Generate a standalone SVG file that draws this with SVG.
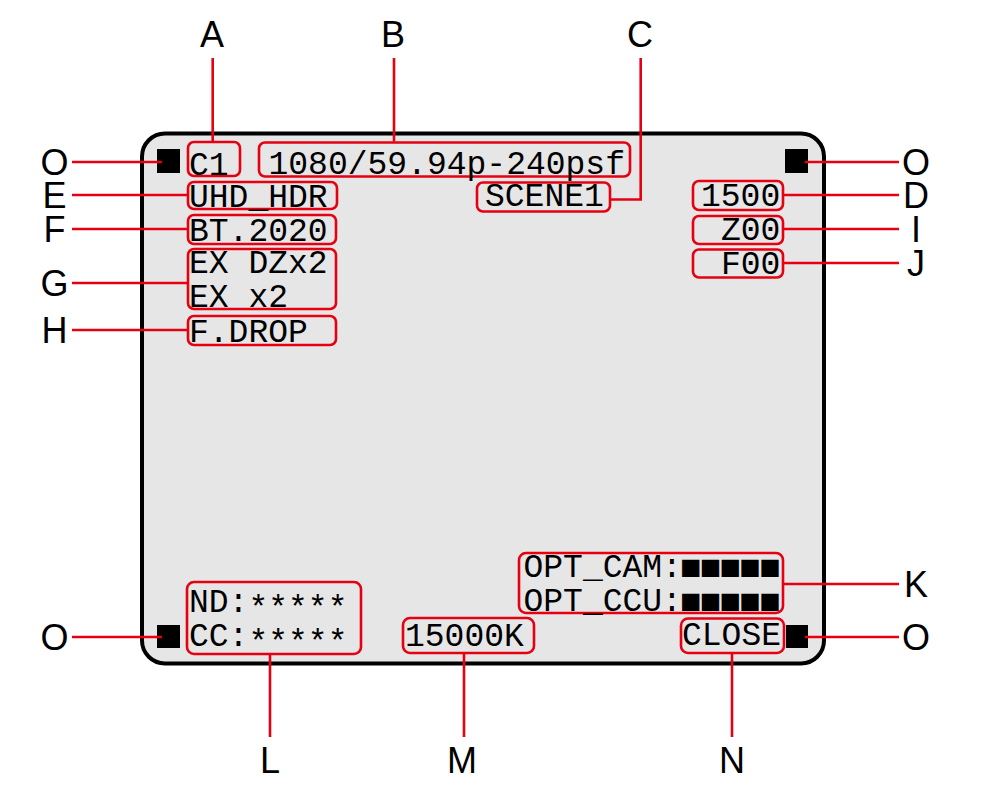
<svg xmlns="http://www.w3.org/2000/svg" width="1002" height="793" viewBox="0 0 1002 793">
<style>
.lbl{font-family:"Liberation Sans",Arial,sans-serif;font-size:36px;fill:#000;text-anchor:middle}
.lcd{font-family:"Liberation Mono","DejaVu Sans Mono",monospace;font-size:33px;fill:#000;letter-spacing:0px}
.sq{font-family:"DejaVu Sans Mono",monospace;font-size:29px;letter-spacing:2.35px}
.box{fill:none;stroke:#e50012;stroke-width:2.6;}
.ln{fill:none;stroke:#e50012;stroke-width:2.6}
</style>
<rect width="1002" height="793" fill="#fff"/>
<g id="panel">
<rect x="142" y="133.5" width="682" height="530" rx="23" fill="#e6e6e6" stroke="#000" stroke-width="4"/>
<rect x="157" y="149" width="23" height="24" fill="#000"/>
<rect x="785" y="149" width="23" height="24" fill="#000"/>
<rect x="157" y="625" width="23" height="23" fill="#000"/>
<rect x="786" y="625" width="22" height="23" fill="#000"/>
</g>
<g id="connectors">
<path class="ln" d="M212.7 58V141"/>
<path class="ln" d="M394 58V141.5"/>
<path class="ln" d="M640.7 58V199.5H611"/>
<path class="ln" d="M72 162H162"/>
<path class="ln" d="M72 195H187"/>
<path class="ln" d="M72 229H187"/>
<path class="ln" d="M72 283H187"/>
<path class="ln" d="M72 330H187"/>
<path class="ln" d="M72 637H162"/>
<path class="ln" d="M805 162H899"/>
<path class="ln" d="M784 195H899"/>
<path class="ln" d="M784 229H899"/>
<path class="ln" d="M784 263H899"/>
<path class="ln" d="M784 584H899"/>
<path class="ln" d="M805 637H899"/>
<path class="ln" d="M270 655V737"/>
<path class="ln" d="M464 654V737"/>
<path class="ln" d="M732 654V737"/>
</g>
<g id="nodeA"><rect class="box" x="188" y="142" width="52" height="34" rx="6"/><text class="lcd" x="189" y="174.5">C1</text><text class="lbl" x="212" y="47">A</text></g>
<g id="nodeB"><rect class="box" x="259" y="142.5" width="371" height="34" rx="6"/><text class="lcd" x="268.5" y="174">1080/59.94p-240psf</text><text class="lbl" x="393" y="47">B</text></g>
<g id="nodeC"><rect class="box" x="477" y="182.5" width="133" height="29" rx="6"/><text class="lcd" x="485" y="206">SCENE1</text><text class="lbl" x="640" y="47">C</text></g>
<g id="nodeE"><rect class="box" x="188" y="182" width="149" height="27" rx="6"/><text class="lcd" x="189" y="207">UHD_HDR</text><text class="lbl" x="54.5" y="208">E</text></g>
<g id="nodeF"><rect class="box" x="188" y="215" width="148" height="29" rx="6"/><text class="lcd" x="189" y="240.5">BT.2020</text><text class="lbl" x="54.5" y="242">F</text></g>
<g id="nodeG"><rect class="box" x="188" y="249" width="148" height="60" rx="6"/><text class="lcd" x="189" y="273">EX DZx2</text><text class="lcd" x="189" y="306.5">EX x2</text><text class="lbl" x="54.5" y="296">G</text></g>
<g id="nodeH"><rect class="box" x="188" y="316" width="148" height="29" rx="6"/><text class="lcd" x="189" y="341.5">F.DROP</text><text class="lbl" x="54.5" y="343">H</text></g>
<g id="nodeD"><rect class="box" x="693" y="181" width="90" height="29" rx="6"/><text class="lcd" x="701" y="205.5">1500</text><text class="lbl" x="916" y="208">D</text></g>
<g id="nodeI"><rect class="box" x="693" y="216" width="90" height="28" rx="6"/><text class="lcd" x="721" y="240">Z00</text><text class="lbl" x="916" y="242">I</text></g>
<g id="nodeJ"><rect class="box" x="693" y="249.5" width="90" height="28" rx="6"/><text class="lcd" x="721" y="273.5">F00</text><text class="lbl" x="916" y="276">J</text></g>
<g id="nodeK"><rect class="box" x="519" y="553" width="264" height="60" rx="7"/><text class="lcd" x="523.5" y="577">OPT_CAM:<tspan class="sq" dy="-1.5">■■■■■</tspan></text><text class="lcd" x="523.5" y="611">OPT_CCU:<tspan class="sq" dy="-1.5">■■■■■</tspan></text><text class="lbl" x="916" y="597">K</text></g>
<g id="nodeL"><rect class="box" x="187" y="582" width="174" height="72" rx="7"/><text class="lcd" x="189" y="612">ND:<tspan dy="6">*****</tspan></text><text class="lcd" x="189" y="646">CC:<tspan dy="6">*****</tspan></text><text class="lbl" x="270" y="773">L</text></g>
<g id="nodeM"><rect class="box" x="403" y="618" width="131" height="35" rx="7"/><text class="lcd" x="405" y="646">15000K</text><text class="lbl" x="462" y="773">M</text></g>
<g id="nodeN"><rect class="box" x="681" y="618.5" width="103" height="34.5" rx="7"/><text class="lcd" x="682" y="645">CLOSE</text><text class="lbl" x="732" y="773">N</text></g>
<g id="nodeO">
<text class="lbl" x="54.5" y="175">O</text>
<text class="lbl" x="916" y="175">O</text>
<text class="lbl" x="54.5" y="650">O</text>
<text class="lbl" x="916" y="650">O</text>
</g>
</svg>
